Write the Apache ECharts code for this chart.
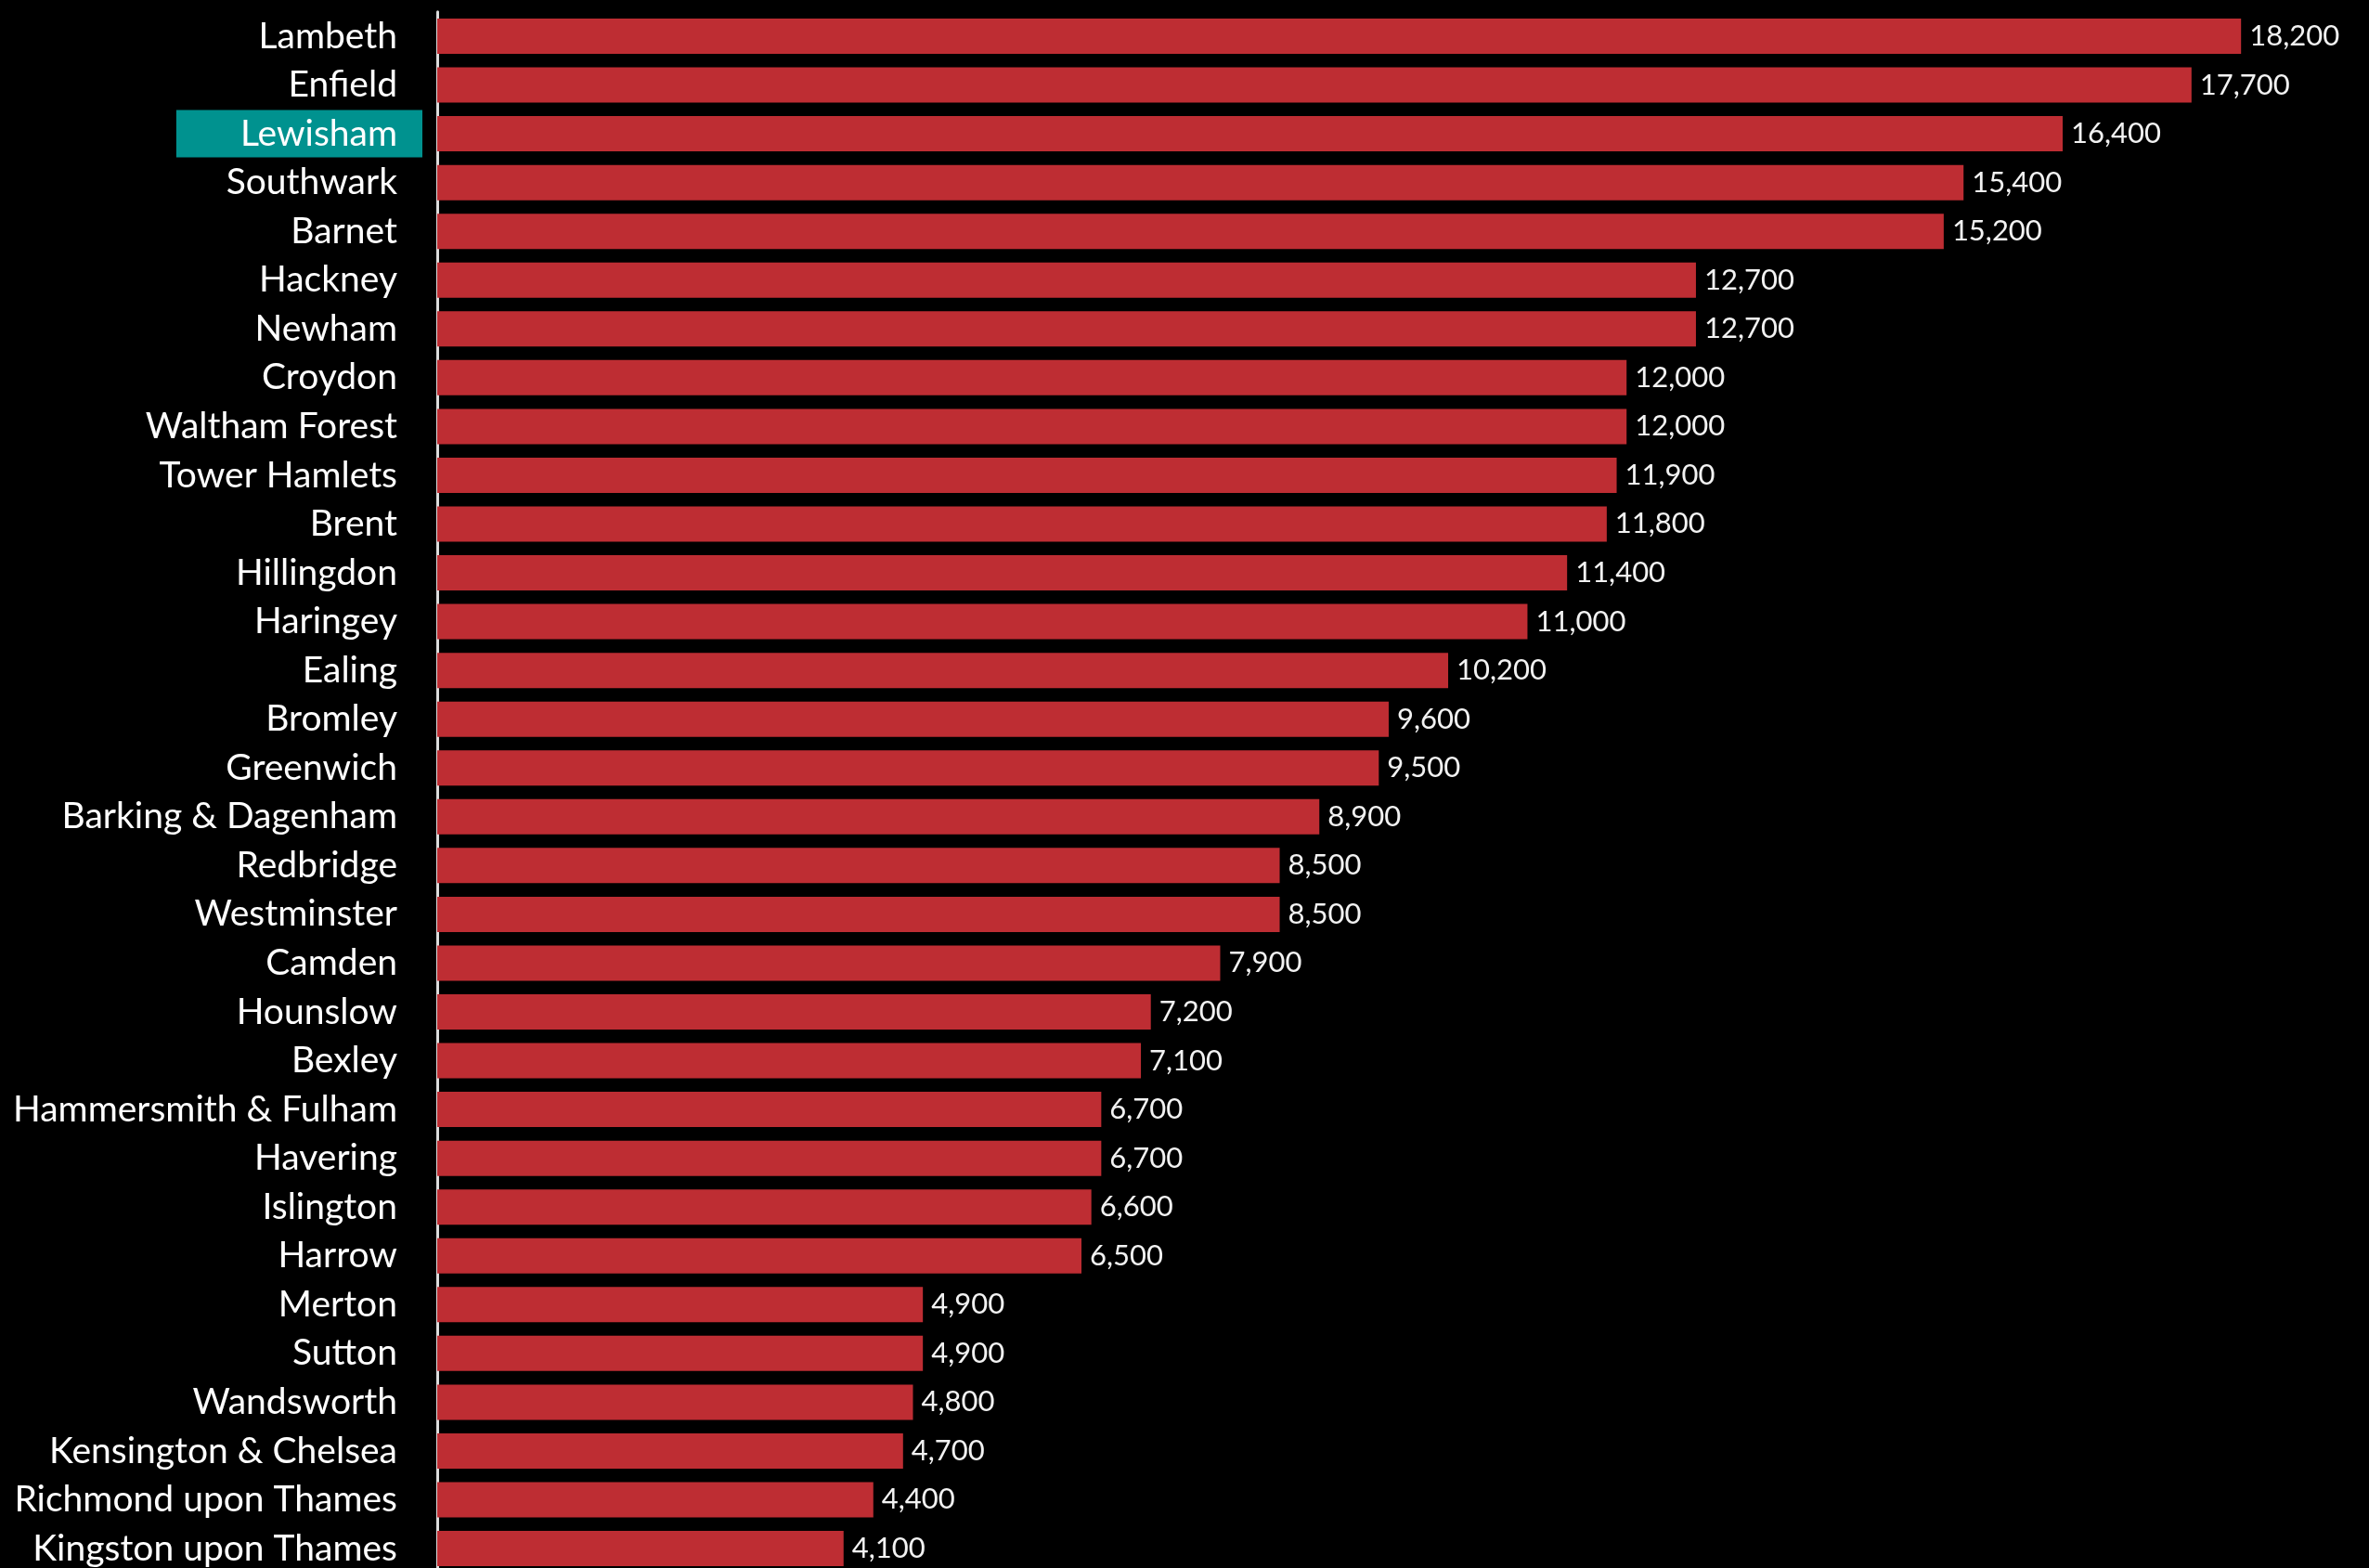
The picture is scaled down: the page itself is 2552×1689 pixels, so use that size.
<!DOCTYPE html>
<html>
<head>
<meta charset="utf-8">
<script src="https://cdn.jsdelivr.net/npm/echarts@6/dist/echarts.min.js"></script>
<style>
html,body{margin:0;padding:0;background:#000;overflow:hidden;}
#c{width:2552px;height:1689px;}
</style>
</head>
<body>
<div id="c"></div>
<script>
const boroughs = ['Lambeth','Enfield','Lewisham','Southwark','Barnet','Hackney','Newham','Croydon','Waltham Forest','Tower Hamlets','Brent','Hillingdon','Haringey','Ealing','Bromley','Greenwich','Barking & Dagenham','Redbridge','Westminster','Camden','Hounslow','Bexley','Hammersmith & Fulham','Havering','Islington','Harrow','Merton','Sutton','Wandsworth','Kensington & Chelsea','Richmond upon Thames','Kingston upon Thames'];
const values = [18200,17700,16400,15400,15200,12700,12700,12000,12000,11900,11800,11400,11000,10200,9600,9500,8900,8500,8500,7900,7200,7100,6700,6700,6600,6500,4900,4900,4800,4700,4400,4100];
const highlighted = 'Lewisham';

const chart = echarts.init(document.getElementById('c'));
chart.setOption({
  backgroundColor: '#000000',
  animation: false,
  grid: { left: 471, top: 12.7, height: 1681.6, right: 52.4, containLabel: false, outerBoundsMode: 'none' },
  xAxis: {
    type: 'value', min: 0, max: 19000,
    axisLine: { show: false }, axisTick: { show: false },
    axisLabel: { show: false }, splitLine: { show: false }
  },
  yAxis: {
    type: 'category', inverse: true, data: boroughs,
    axisTick: { show: false },
    axisLine: { show: true, lineStyle: { color: '#dcdcdc', width: 3 } },
    axisLabel: {
      margin: 16,
      interval: 0,
      formatter: function (v) { return v === highlighted ? '{h|' + v + '}' : '{n|' + v + '}'; },
      rich: {
        n: { color: '#ffffff', fontFamily: 'Lato', fontSize: 39, padding: [0, 27, 0, 0] },
        h: { color: '#ffffff', fontFamily: 'Lato', fontSize: 39, backgroundColor: '#00928f',
             padding: [6, 27, 6, 69], lineHeight: 46 }
      }
    }
  },
  series: [{
    type: 'bar',
    data: values,
    barWidth: 38,
    itemStyle: { color: '#be2d33' },
    label: {
      show: true, position: 'right', distance: 9,
      color: '#f2f2f2', fontFamily: 'Lato', fontSize: 31,
      formatter: function (p) { return p.value.toLocaleString('en-US'); }
    }
  }]
});
</script>
</body>
</html>
